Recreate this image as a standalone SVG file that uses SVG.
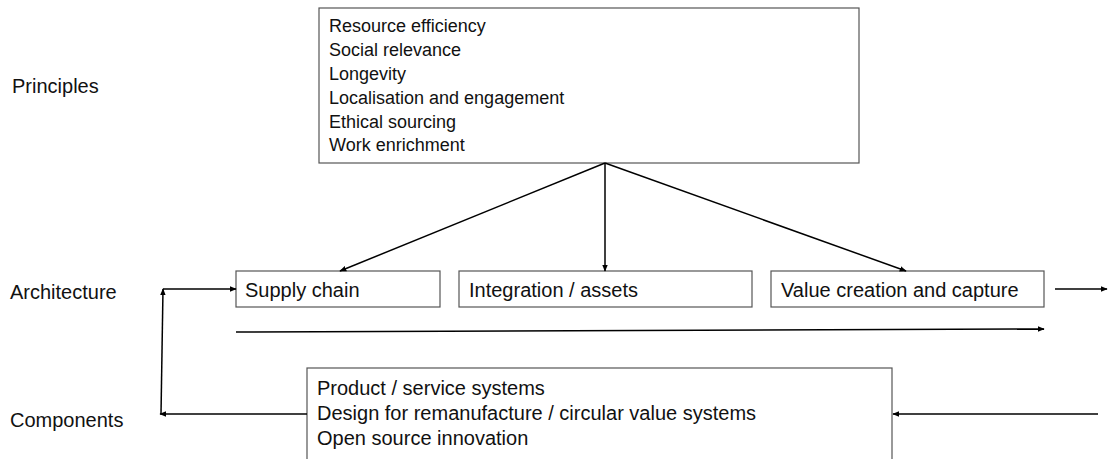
<svg xmlns="http://www.w3.org/2000/svg" width="1111" height="459" viewBox="0 0 1111 459">
<style>
text{font-family:"Liberation Sans",Arial,sans-serif;font-size:20px;fill:#111}
.p{font-size:18px}
.box{fill:#fff;stroke:#555;stroke-width:1.2}
.c{fill:none;stroke:#000;stroke-width:1.5}
</style>
<defs>
<marker id="ah" viewBox="0 0 10 10" refX="9" refY="5" markerWidth="7" markerHeight="7" markerUnits="userSpaceOnUse" orient="auto"><path d="M0,1 L10,5 L0,9 z" fill="#000"/></marker>
</defs>
<rect width="1111" height="459" fill="#fff"/>
<g id="labels">
<text x="12" y="93">Principles</text>
<text x="10" y="299">Architecture</text>
<text x="10" y="427">Components</text>
</g>
<g id="principles">
<rect class="box" x="319" y="8" width="540" height="155"/>
<text class="p" x="329" y="32">Resource efficiency</text>
<text class="p" x="329" y="56">Social relevance</text>
<text class="p" x="329" y="80">Longevity</text>
<text class="p" x="329" y="104">Localisation and engagement</text>
<text class="p" x="329" y="128">Ethical sourcing</text>
<text class="p" x="329" y="151">Work enrichment</text>
</g>
<g id="supply">
<rect class="box" x="236" y="271" width="204" height="36"/>
<text x="245" y="297">Supply chain</text>
</g>
<g id="integration">
<rect class="box" x="459" y="271" width="293" height="36"/>
<text x="469" y="297">Integration / assets</text>
</g>
<g id="value">
<rect class="box" x="771" y="271" width="273" height="36"/>
<text x="781" y="297">Value creation and capture</text>
</g>
<g id="components">
<rect class="box" x="307" y="368" width="585" height="100"/>
<text x="317" y="395">Product / service systems</text>
<text x="317" y="420">Design for remanufacture / circular value systems</text>
<text x="317" y="445">Open source innovation</text>
</g>
<g id="connectors">
<line class="c" x1="605" y1="163" x2="340" y2="271" marker-end="url(#ah)"/>
<line class="c" x1="605" y1="163" x2="605" y2="271" marker-end="url(#ah)"/>
<line class="c" x1="605" y1="163" x2="906" y2="271" marker-end="url(#ah)"/>
<line class="c" x1="1055" y1="289" x2="1107" y2="289" marker-end="url(#ah)"/>
<line class="c" x1="236" y1="332" x2="1044" y2="329" marker-end="url(#ah)"/>
<line class="c" x1="1098" y1="414" x2="893" y2="414" marker-end="url(#ah)"/>
<line class="c" x1="307" y1="414" x2="160" y2="414" marker-end="url(#ah)"/>
<line class="c" x1="161" y1="414" x2="163" y2="289" marker-end="url(#ah)"/>
<line class="c" x1="163" y1="289" x2="236" y2="289" marker-end="url(#ah)"/>
</g>
</svg>
